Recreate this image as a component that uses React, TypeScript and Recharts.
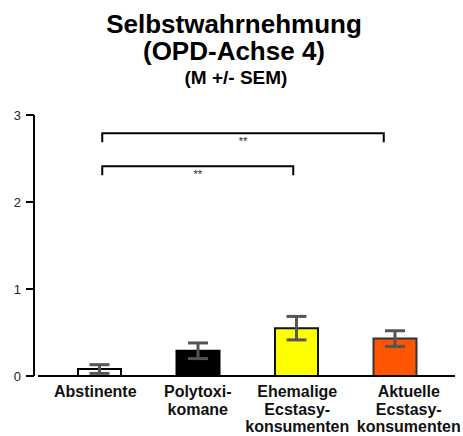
import { BarChart, Bar, XAxis, YAxis, ErrorBar, ReferenceLine, Cell } from "recharts"

const categories = ["Abstinente", "Polytoxi-\nkomane", "Ehemalige\nEcstasy-\nkonsumenten", "Aktuelle\nEcstasy-\nkonsumenten"]
const means = [0.08, 0.29, 0.55, 0.43]
const sems = [0.05, 0.09, 0.135, 0.09]
const yTicks = [0, 1, 2, 3]

const FILLS = ["#FFFFFF", "#000000", "#FFFF00", "#FF5500"]
const STROKES = ["#000000", "#000000", "#111111", "#333333"]
const LABEL_DX = [-4, 0, 1, 14]

const data = categories.map((name, i) => ({ name, mean: means[i], sem: sems[i] }))

const font = "'Liberation Sans', Arial, Helvetica, sans-serif"

const XTick = (props: any) => {
    const { x, y, payload, index } = props
    const lines = String(payload.value).split("\n")
    return (
        <text x={x + LABEL_DX[index]} y={y} textAnchor="middle" fontFamily={font} fontWeight="bold" fontSize={16} fill="#111">
            {lines.map((l: string, i: number) => (
                <tspan key={i} x={x + LABEL_DX[index]} dy={i === 0 ? 13 : 17.5}>{l}</tspan>
            ))}
        </text>
    )
}

const bracket = (insetLeft: number, insetRight: number) => (props: any) => {
    const { x1, x2, y1 } = props
    const a = x1 + insetLeft
    const b = x2 - insetRight
    return (
        <g>
            <path d={`M${a},${y1 + 9} L${a},${y1} L${b},${y1} L${b},${y1 + 9}`} stroke="#000" strokeWidth={2} fill="none" />
            <text x={(a + b) / 2} y={y1 + 12} textAnchor="middle" fontFamily={font} fontSize={11} fill="#222">**</text>
        </g>
    )
}

const baseline = (props: any) => {
    const { x1, x2, y1 } = props
    return <line x1={x1 + 4} x2={x2} y1={y1} y2={y1} stroke="#000" strokeWidth={2} />
}

export default function App() {
    return (
        <div style={{ position: "absolute", left: 0, top: 0, width: 463, height: 436, background: "#fff" }}>
            <svg width={463} height={100} style={{ position: "absolute", left: 0, top: 0 }}>
                <text x={234} y={33} textAnchor="middle" fontFamily={font} fontWeight="bold" fontSize={26} fill="#000">Selbstwahrnehmung</text>
                <text x={234} y={60} textAnchor="middle" fontFamily={font} fontWeight="bold" fontSize={26} fill="#000">(OPD-Achse 4)</text>
                <text x={236} y={84} textAnchor="middle" fontFamily={font} fontWeight="bold" fontSize={19} fill="#000">(M +/- SEM)</text>
            </svg>
            <div style={{ position: "absolute", left: 0, top: 0 }}>
                <BarChart width={463} height={436} data={data} margin={{ top: 115, right: 8, left: 0, bottom: 0 }}>
                    <XAxis
                        dataKey="name"
                        axisLine={false}
                        tickLine={false}
                        height={60}
                        interval={0}
                        padding={{ left: 16, right: 11 }}
                        tick={<XTick />}
                    />
                    <YAxis
                        width={34}
                        domain={[0, 3]}
                        ticks={yTicks}
                        axisLine={{ stroke: "#000", strokeWidth: 2 }}
                        tickLine={{ stroke: "#000", strokeWidth: 2 }}
                        tickSize={8}
                        tickMargin={5}
                        tick={{ fontFamily: font, fontSize: 13, fill: "#222" }}
                    />
                    <ReferenceLine y={0} shape={baseline} />
                    <Bar dataKey="mean" barSize={43} strokeWidth={2} isAnimationActive={false}>
                        {data.map((_, i) => (
                            <Cell key={i} fill={FILLS[i]} stroke={STROKES[i]} />
                        ))}
                        <ErrorBar dataKey="sem" width={10} stroke="#555" strokeWidth={3} />
                    </Bar>
                    <ReferenceLine
                        segment={[{ x: categories[0], y: 2.79 }, { x: categories[3], y: 2.79 }]}
                        shape={bracket(3, 11)}
                    />
                    <ReferenceLine
                        segment={[{ x: categories[0], y: 2.41 }, { x: categories[2], y: 2.41 }]}
                        shape={bracket(3, 3)}
                    />
                </BarChart>
            </div>
        </div>
    )
}
